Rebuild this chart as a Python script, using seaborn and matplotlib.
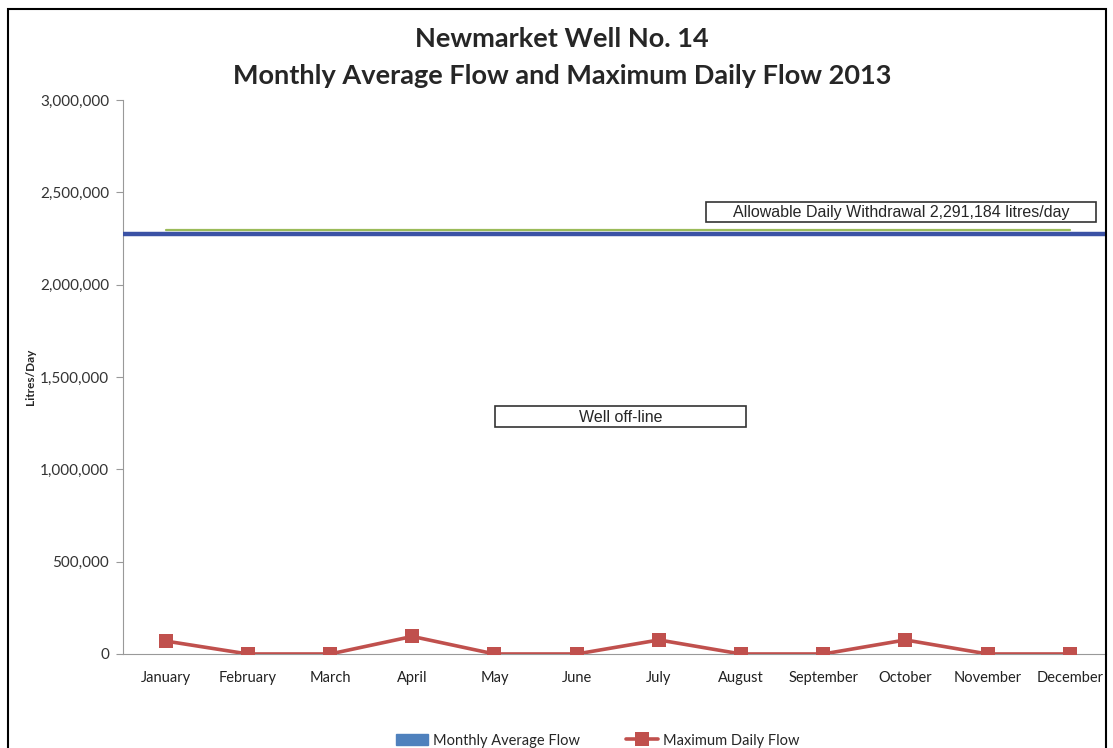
import matplotlib
matplotlib.use('Agg')
import matplotlib.pyplot as plt
import matplotlib.patches as mpatches
from matplotlib.lines import Line2D
from matplotlib.ticker import FuncFormatter
import seaborn as sns
import pandas as pd
import numpy as np

months = ['January', 'February', 'March', 'April', 'May', 'June', 'July',
          'August', 'September', 'October', 'November', 'December']
avg_flow = [0, 0, 0, 0, 0, 0, 0, 0, 0, 0, 0, 0]
max_flow = [70000, 0, 0, 95000, 0, 0, 76000, 0, 0, 76000, 0, 0]
allowable = [2296000] * 12
blue_level = 2272000

df = pd.DataFrame({'month': months, 'avg': avg_flow, 'max': max_flow,
                   'allow': allowable})

sns.set_style('white')
plt.rcParams['font.family'] = ['Lato', 'DejaVu Sans']

fig = plt.figure(figsize=(11.13, 7.48), dpi=100)
ax = fig.add_axes([0.1105, 0.1257, 0.8832, 0.7406])

# monthly average (zero, well off-line)
sns.barplot(ax=ax, x='month', y='avg', data=df, color='#4f81bd', width=0.5)
ax.axhline(blue_level, color='#3b52a5', lw=3.2, zorder=3)
sns.lineplot(ax=ax, x=np.arange(12), y=df['allow'], color='#9bbb59', lw=1.6, zorder=4)
sns.lineplot(ax=ax, x=np.arange(12), y=df['max'], color='#c0504d', lw=2.6,
             marker='s', markersize=9.5, markeredgewidth=0, zorder=5)

ax.set_xlim(-0.52, 11.44)
ax.set_ylim(0, 3000000)
ax.set_yticks(np.arange(0, 3000001, 500000))
ax.yaxis.set_major_formatter(FuncFormatter(lambda v, p: f'{int(v):,}'))
ax.set_xticks(range(12))
ax.set_xticklabels(months)
ax.set_xticks(np.arange(0.5, 11.5, 1), minor=True)
ax.tick_params(axis='x', which='major', length=0, labelsize=10.5, colors='#222222', pad=12)
ax.tick_params(axis='x', which='minor', length=4, direction='in', color='#999999')
ax.tick_params(axis='y', length=5, direction='out', color='#999999', labelsize=11,
               left=True, pad=5)
for lab in ax.get_yticklabels():
    lab.set_color('#333333')
ax.set_xlabel('')
ax.set_ylabel('Litres/Day', fontsize=8.5, fontweight='bold')
ax.yaxis.set_label_coords(-0.088, 0.5)
sns.despine(ax=ax)
ax.spines['left'].set_color('#999999')
ax.spines['bottom'].set_color('#999999')

# annotation boxes
ax.add_patch(mpatches.Rectangle((0.3784, 0.4097), 0.2554, 0.038, transform=ax.transAxes,
                                fill=False, ec='#333333', lw=1.2, zorder=6))
ax.text(0.506, 0.4267, 'Well off-line', transform=ax.transAxes, ha='center', va='center',
        fontsize=11.5, family='Liberation Sans', zorder=7)
ax.add_patch(mpatches.Rectangle((0.593, 0.7798), 0.3968, 0.0361, transform=ax.transAxes,
                                fill=False, ec='#333333', lw=1.2, zorder=6))
ax.text(0.7914, 0.7968, 'Allowable Daily Withdrawal 2,291,184 litres/day', transform=ax.transAxes,
        ha='center', va='center', fontsize=11.5, family='Liberation Sans', zorder=7)

fig.text(0.505, 0.948, 'Newmarket Well No. 14', ha='center', va='center',
         fontsize=19.5, fontweight='bold')
fig.text(0.505, 0.899, 'Monthly Average Flow and Maximum Daily Flow 2013', ha='center',
         va='center', fontsize=19.5, fontweight='bold')

handles = [mpatches.Patch(color='#4f81bd'),
           Line2D([0], [0], color='#c0504d', lw=2.6, marker='s', markersize=9.5, markeredgewidth=0)]
fig.legend(handles, ['Monthly Average Flow', 'Maximum Daily Flow'], loc='center',
           bbox_to_anchor=(0.537, 0.01), ncol=2, frameon=False, fontsize=10.5,
           handlelength=2.2, columnspacing=3.2, handletextpad=0.3)

fig.patches.append(mpatches.Rectangle((0.0072, -0.02), 0.9865, 1.008, transform=fig.transFigure,
                                      fill=False, ec='black', lw=1.5))

fig.savefig('out.png', dpi=100)
